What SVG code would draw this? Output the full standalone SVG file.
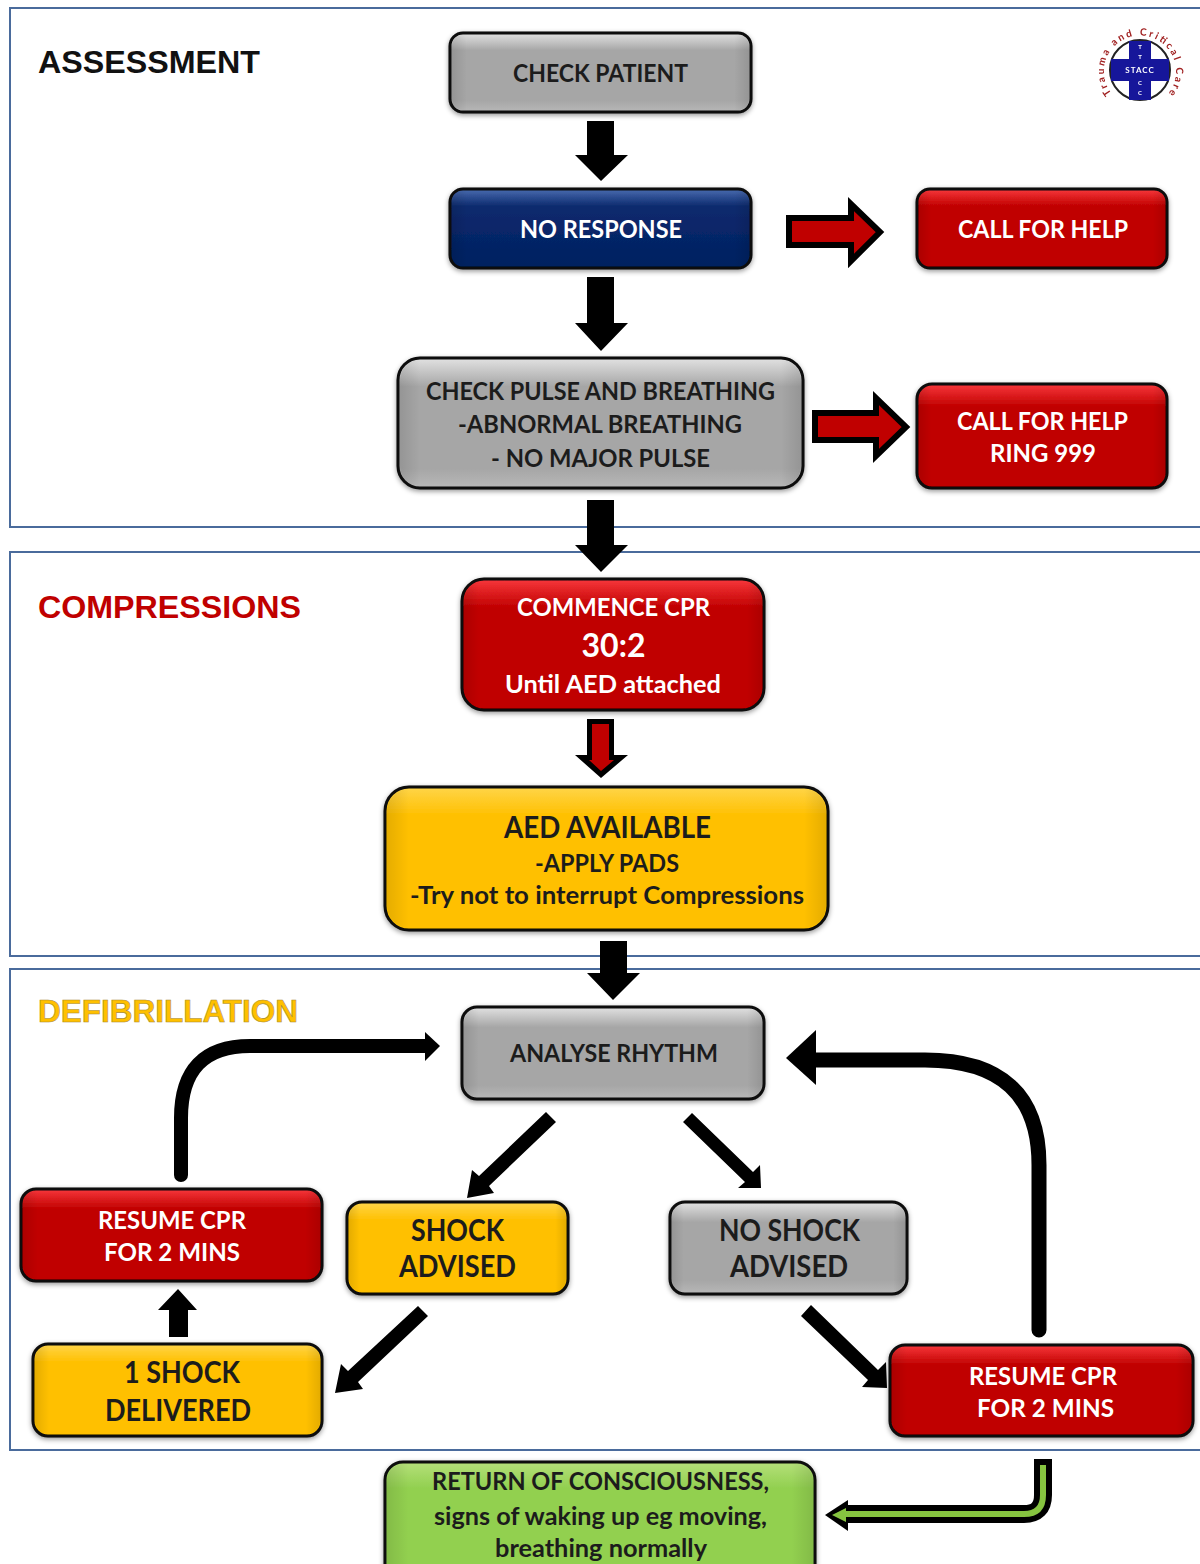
<svg xmlns="http://www.w3.org/2000/svg" width="1200" height="1564" viewBox="0 0 1200 1564">
<style>
.panel{fill:#fff;stroke:#4a6b9c;stroke-width:2}
.box{stroke:#0a0a0a;stroke-width:3;filter:url(#sh)}
.ov{fill:url(#side);stroke:none}
.gr{fill:url(#gGray)}.bl{fill:url(#gBlue)}.rd{fill:url(#gRed)}.ye{fill:url(#gYel)}.gn{fill:url(#gGrn)}
text{font-family:Lato,"Liberation Sans",sans-serif;font-weight:700;text-anchor:middle}
.d{fill:#1c1c1c}.w{fill:#fff}
.s25{font-size:25px}.s27{font-size:28px}.s30{font-size:30px}
.hd{font-family:"Liberation Sans",Arial,sans-serif;font-size:32px;text-anchor:start;font-weight:700}
.a{fill:#000}
.line{fill:none;stroke:#000;stroke-width:14;stroke-linecap:round}
</style>
<defs>
<filter id="sh" x="-5%" y="-10%" width="110%" height="125%"><feDropShadow dx="0" dy="2" stdDeviation="2.5" flood-color="#000" flood-opacity=".4"/></filter>
<filter id="soft" x="-5%" y="-5%" width="110%" height="110%"><feGaussianBlur stdDeviation=".5"/></filter>
<linearGradient id="gGray" x1="0" y1="0" x2="0" y2="1"><stop offset="0" stop-color="#e2e2e2"/><stop offset=".22" stop-color="#a6a6a6"/><stop offset=".85" stop-color="#a6a6a6"/><stop offset="1" stop-color="#b8b8b8"/></linearGradient>
<linearGradient id="gBlue" x1="0" y1="0" x2="0" y2="1"><stop offset="0" stop-color="#4a6cb0"/><stop offset=".22" stop-color="#0c2a6e"/><stop offset="1" stop-color="#002060"/></linearGradient>
<linearGradient id="gRed" x1="0" y1="0" x2="0" y2="1"><stop offset="0" stop-color="#f8383c"/><stop offset=".22" stop-color="#c00000"/><stop offset="1" stop-color="#c00000"/></linearGradient>
<linearGradient id="gYel" x1="0" y1="0" x2="0" y2="1"><stop offset="0" stop-color="#ffd54a"/><stop offset=".2" stop-color="#ffc000"/><stop offset="1" stop-color="#ffc000"/></linearGradient>
<linearGradient id="gGrn" x1="0" y1="0" x2="0" y2="1"><stop offset="0" stop-color="#b5e07a"/><stop offset=".2" stop-color="#92d050"/><stop offset="1" stop-color="#92d050"/></linearGradient>
<linearGradient id="side" x1="0" y1="0" x2="1" y2="0"><stop offset="0" stop-color="#000" stop-opacity=".1"/><stop offset=".05" stop-color="#000" stop-opacity="0"/><stop offset=".95" stop-color="#000" stop-opacity="0"/><stop offset="1" stop-color="#000" stop-opacity=".1"/></linearGradient>
<path id="ring" d="M1118 100 A36 36 0 1 1 1162 100"/>
</defs>
<rect width="1200" height="1564" fill="#fff"/>
<g id="panels">
<path class="panel" d="M1202 8H10V527H1202"/>
<path class="panel" d="M1202 552H10V956H1202"/>
<path class="panel" d="M1202 969H10V1450H1202"/>
</g>
<g id="headings">
<text class="hd" x="38" y="73" fill="#111" textLength="222" lengthAdjust="spacingAndGlyphs">ASSESSMENT</text>
<text class="hd" x="38" y="618" fill="#c00000" textLength="263" lengthAdjust="spacingAndGlyphs">COMPRESSIONS</text>
<text class="hd" x="38" y="1022" fill="#ffc000" stroke="#a88a30" stroke-width=".6" textLength="260" lengthAdjust="spacingAndGlyphs">DEFIBRILLATION</text>
</g>
<g id="logo" filter="url(#soft)">
<circle cx="1140" cy="70" r="30" fill="#fff" stroke="#222" stroke-width="2"/>
<path fill="#14149a" d="M1129 41H1151V59H1169V81H1151V100H1129V81H1111V59H1129Z"/>
<text x="1140" y="73" font-size="8" class="w" letter-spacing="1">STACC</text>
<text x="1140" y="49" font-size="6" class="w">T</text>
<text x="1140" y="59" font-size="6" class="w">T</text>
<text x="1140" y="85" font-size="6" class="w">C</text>
<text x="1140" y="95" font-size="6" class="w">C</text>
<text font-size="10" fill="#a02020"><textPath href="#ring" startOffset="50%" textLength="160">Trauma and Critical Care</textPath></text>
</g>
<g id="connectors">
<path id="c1" class="a" d="M587 121H614V155H628L601 181L575 155H587Z"/>
<path id="c2" class="a" d="M587 277H614V323H628L601 351L575 323H587Z"/>
<path id="c3" class="a" d="M587 500H614V545H628L601 572L575 545H587Z"/>
<path id="c4" class="a" d="M587 719H614V755H628L601 778L575 755H587Z"/>
<path id="c4r" fill="#c00000" d="M592 724H609V760H614L601 771L589 760H592Z"/>
<path id="c5" class="a" d="M600 941H627V973H640L613 1000L587 973H600Z"/>
<path id="r1" d="M789 218H851V204L880 232L851 261V245H789Z" fill="#c00000" stroke="#000" stroke-width="6"/>
<path id="r2" d="M815 413H876V398L906 427L876 456V440H815Z" fill="#c00000" stroke="#000" stroke-width="6"/>
<path id="l1" class="line" d="M181 1175V1118Q181 1046 250 1046H425"/>
<path id="l1h" class="a" d="M425 1032L440 1046L425 1061Z"/>
<path id="l2" class="line" style="stroke-width:15" d="M1039 1330V1165Q1039 1060 925 1060H810"/>
<path id="l2h" class="a" d="M816 1030L786 1058L816 1085Z"/>
<path id="d1" class="a" d="M546 1112L556 1122L489 1186L494 1193L467 1198L472 1170L479 1176Z"/>
<path id="d2" class="a" d="M692 1113L683 1122L745 1182L738 1188L761 1188L760 1165L753 1172Z"/>
<path id="d3" class="a" d="M418 1306L428 1316L358 1382L363 1389L335 1393L341 1364L348 1371Z"/>
<path id="d4" class="a" d="M811 1305L801 1316L868 1380L862 1387L887 1388L886 1362L878 1370Z"/>
<path id="u1" class="a" d="M169 1337V1310H158L178 1289L197 1310H188V1337Z"/>
<path id="g1" d="M1043 1459V1495Q1043 1514 1024 1514H845" fill="none" stroke="#000" stroke-width="18"/>
<path id="g1h" class="a" d="M848 1500L825 1515L848 1531Z"/>
<path id="g1i" d="M1043 1465V1495Q1043 1514 1024 1514H845" fill="none" stroke="#86c440" stroke-width="6"/>
<path id="g1j" fill="#86c440" d="M846 1508L832 1515L846 1522Z"/>
</g>
<g id="n1"><rect class="box gr" x="450" y="33" width="301" height="79" rx="13"/><rect class="ov" x="452" y="35" width="297" height="75" rx="11"/><text class="d s25" x="600.5" y="82" textLength="175" lengthAdjust="spacingAndGlyphs">CHECK PATIENT</text></g>
<g id="n2"><rect class="box bl" x="450" y="189" width="301" height="79" rx="13"/><rect class="ov" x="452" y="191" width="297" height="75" rx="11"/><text class="w s25" x="601" y="238" textLength="162" lengthAdjust="spacingAndGlyphs">NO RESPONSE</text></g>
<g id="n3"><rect class="box rd" x="917" y="189" width="250" height="79" rx="13"/><rect class="ov" x="919" y="191" width="246" height="75" rx="11"/><text class="w s25" x="1043" y="238" textLength="170" lengthAdjust="spacingAndGlyphs">CALL FOR HELP</text></g>
<g id="n4"><rect class="box gr" x="398" y="358" width="405" height="130" rx="22"/><rect class="ov" x="400" y="360" width="401" height="126" rx="20"/><text class="d s25" x="600.5" y="400" textLength="349" lengthAdjust="spacingAndGlyphs">CHECK PULSE AND BREATHING</text><text class="d s25" x="600" y="433" textLength="284" lengthAdjust="spacingAndGlyphs">-ABNORMAL BREATHING</text><text class="d s25" x="600.5" y="467" textLength="219" lengthAdjust="spacingAndGlyphs">- NO MAJOR PULSE</text></g>
<g id="n5"><rect class="box rd" x="917" y="384" width="250" height="104" rx="15"/><rect class="ov" x="919" y="386" width="246" height="100" rx="13"/><text class="w s25" x="1042.5" y="430" textLength="171" lengthAdjust="spacingAndGlyphs">CALL FOR HELP</text><text class="w s25" x="1043" y="462" textLength="106" lengthAdjust="spacingAndGlyphs">RING 999</text></g>
<g id="n6"><rect class="box rd" x="462" y="579" width="302" height="131" rx="22"/><rect class="ov" x="464" y="581" width="298" height="127" rx="20"/><text class="w s25" x="613.5" y="616" textLength="193" lengthAdjust="spacingAndGlyphs">COMMENCE CPR</text><text class="w" font-size="32" x="613.5" y="657">30:2</text><text class="w s25" x="613" y="693" textLength="216" lengthAdjust="spacingAndGlyphs">Until AED attached</text></g>
<g id="n7"><rect class="box ye" x="385" y="787" width="443" height="143" rx="24"/><rect class="ov" x="387" y="789" width="439" height="139" rx="22"/><text class="d s30" x="607.5" y="838" textLength="207" lengthAdjust="spacingAndGlyphs">AED AVAILABLE</text><text class="d s25" x="607" y="872" textLength="144" lengthAdjust="spacingAndGlyphs">-APPLY PADS</text><text class="d s25" x="607" y="904" textLength="394" lengthAdjust="spacingAndGlyphs">-Try not to interrupt Compressions</text></g>
<g id="n8"><rect class="box gr" x="462" y="1007" width="302" height="92" rx="15"/><rect class="ov" x="464" y="1009" width="298" height="88" rx="13"/><text class="d s25" x="614" y="1062" textLength="208" lengthAdjust="spacingAndGlyphs">ANALYSE RHYTHM</text></g>
<g id="n9"><rect class="box rd" x="21" y="1189" width="301" height="92" rx="15"/><rect class="ov" x="23" y="1191" width="297" height="88" rx="13"/><text class="w s25" x="172" y="1229" textLength="148" lengthAdjust="spacingAndGlyphs">RESUME CPR</text><text class="w s25" x="172" y="1261" textLength="136" lengthAdjust="spacingAndGlyphs">FOR 2 MINS</text></g>
<g id="n10"><rect class="box ye" x="347" y="1202" width="221" height="92" rx="15"/><rect class="ov" x="349" y="1204" width="217" height="88" rx="13"/><text class="d s30" x="457.5" y="1241" textLength="93" lengthAdjust="spacingAndGlyphs">SHOCK</text><text class="d s30" x="457.5" y="1277" textLength="117" lengthAdjust="spacingAndGlyphs">ADVISED</text></g>
<g id="n11"><rect class="box gr" x="670" y="1202" width="237" height="92" rx="15"/><rect class="ov" x="672" y="1204" width="233" height="88" rx="13"/><text class="d s30" x="789.5" y="1241" textLength="141" lengthAdjust="spacingAndGlyphs">NO SHOCK</text><text class="d s30" x="789" y="1277" textLength="118" lengthAdjust="spacingAndGlyphs">ADVISED</text></g>
<g id="n12"><rect class="box ye" x="33" y="1344" width="289" height="92" rx="15"/><rect class="ov" x="35" y="1346" width="285" height="88" rx="13"/><text class="d s30" x="182" y="1383" textLength="116" lengthAdjust="spacingAndGlyphs">1 SHOCK</text><text class="d s30" x="178" y="1421" textLength="146" lengthAdjust="spacingAndGlyphs">DELIVERED</text></g>
<g id="n13"><rect class="box rd" x="890" y="1345" width="303" height="91" rx="15"/><rect class="ov" x="892" y="1347" width="299" height="87" rx="13"/><text class="w s25" x="1043" y="1385" textLength="148" lengthAdjust="spacingAndGlyphs">RESUME CPR</text><text class="w s25" x="1045.5" y="1417" textLength="137" lengthAdjust="spacingAndGlyphs">FOR 2 MINS</text></g>
<g id="n14"><rect class="box gn" x="385" y="1462" width="430" height="130" rx="18"/><rect class="ov" x="387" y="1464" width="426" height="126" rx="16"/><text class="d s25" x="600.5" y="1490" textLength="337" lengthAdjust="spacingAndGlyphs">RETURN OF CONSCIOUSNESS,</text><text class="d s25" x="600.5" y="1525" textLength="333" lengthAdjust="spacingAndGlyphs">signs of waking up eg moving,</text><text class="d s25" x="601" y="1557" textLength="212" lengthAdjust="spacingAndGlyphs">breathing normally</text></g>
</svg>
